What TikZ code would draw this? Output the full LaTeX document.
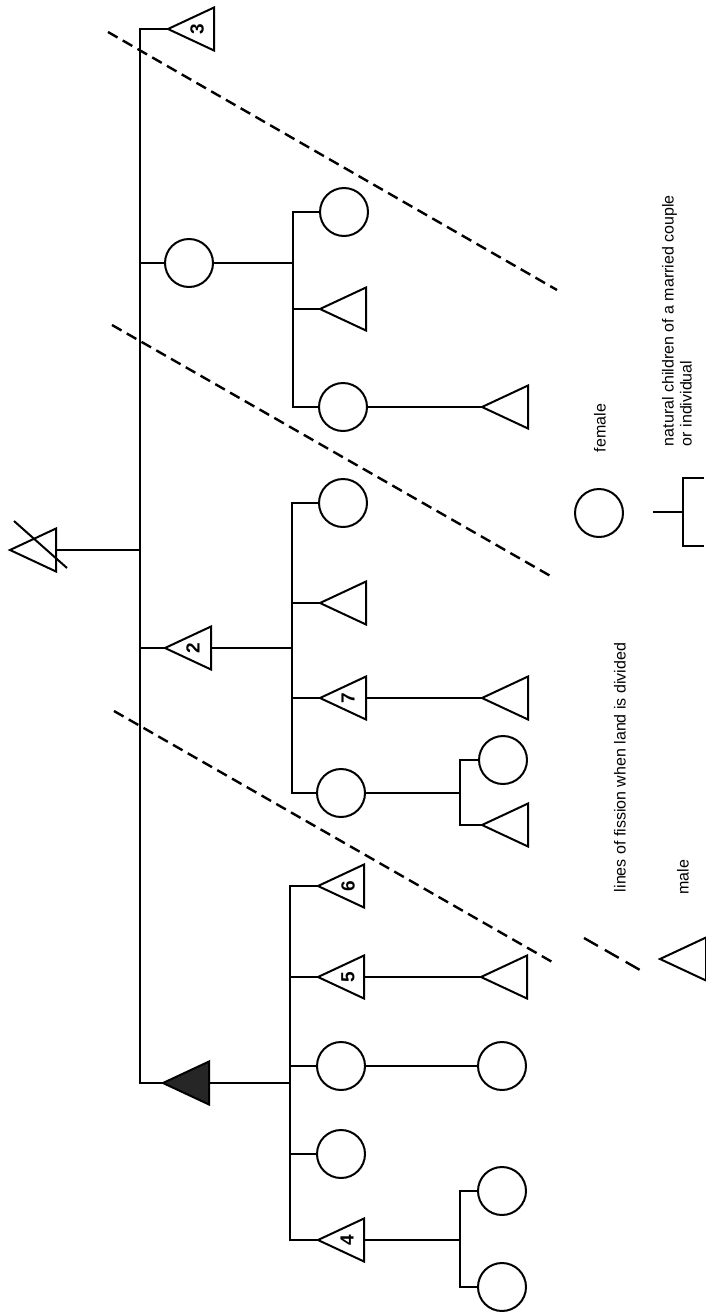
\documentclass[tikz,border=0pt]{standalone}
\usepackage{fontspec}
\newfontfamily\lab{Liberation Sans}
\usetikzlibrary{shapes.geometric}
\tikzset{
  tri/.style={draw, isosceles triangle, isosceles triangle stretches, shape border rotate=180,
    minimum width=21.5pt, minimum height=23pt, inner sep=0pt, outer sep=0pt, anchor=apex},
  fem/.style={draw, circle, minimum size=24pt, inner sep=0pt, outer sep=0pt},
  num/.style={rotate=90, inner sep=0pt, font={\lab\bfseries\fontsize{9.5}{10}\selectfont}},
  txt/.style={rotate=90, inner sep=0pt, font={\lab\fontsize{8}{9}\selectfont}, align=left},
  fission/.style={dash pattern=on 5.5pt off 3pt, line width=1.2pt},
}
\begin{document}
\begin{tikzpicture}[x=0.5pt, y=-0.5pt, line width=1pt]
\useasboundingbox (0,0) rectangle (706,1312);

% ---- generation 1 and 2 ----
\node[tri] (tx) at (10,550) {};
\coordinate (sl1) at (14,521);
\coordinate (sl2) at (67,568);
\draw (sl1) -- (sl2);

\coordinate (m1) at (140,29);
\coordinate (m2) at (140,1083);
\node[tri] (t3) at (168,29) {};
\node[num] (n3) at (197,29) {3};
\node[fem] (cA) at (189,263) {};
\node[tri] (t2) at (165,648) {};
\node[num] (n2) at (193,648) {2};
\node[tri, fill=black!85] (tf) at (163,1083) {};

\draw (t3.apex) -- (m1) -- (m2) -- (tf.apex);
\draw (tx.lower side) -- (tx.lower side -| m1);
\draw (cA.west) -- (cA.west -| m1);
\draw (t2.apex) -- (t2.apex -| m1);

% ---- family A ----
\coordinate (a1) at (293,212);
\coordinate (a2) at (293,407);
\node[fem] (cA1) at (344,212) {};
\node[tri] (ta1) at (320,309) {};
\node[fem] (cA3) at (343,407) {};
\node[tri] (ta2) at (482,407) {};
\draw (cA1.west) -- (a1) -- (a2) -- (cA3.west);
\draw (cA.east) -- (cA.east -| a1);
\draw (ta1.apex) -- (ta1.apex -| a1);
\draw (cA3.east) -- (ta2.apex);

% ---- family B ----
\coordinate (b1) at (292,503);
\coordinate (b2) at (292,793);
\node[fem] (cB1) at (343,503) {};
\node[tri] (tb2) at (320,603) {};
\node[tri] (t7) at (320,698) {};
\node[num] (n7) at (348,698) {7};
\node[tri] (tb7) at (482,698) {};
\node[fem] (cB4) at (341,793) {};
\draw (cB1.west) -- (b1) -- (b2) -- (cB4.west);
\draw (t2.lower side) -- (t2.lower side -| b1);
\draw (tb2.apex) -- (tb2.apex -| b1);
\draw (t7.apex) -- (t7.apex -| b1);
\draw (t7.lower side) -- (tb7.apex);

\coordinate (d1) at (460,760);
\coordinate (d2) at (460,825);
\node[fem] (cB4a) at (503,760) {};
\node[tri] (tb9) at (482,825) {};
\draw (cB4.east) -- (cB4.east -| d1);
\draw (cB4a.west) -- (d1) -- (d2) -- (tb9.apex);

% ---- family F ----
\coordinate (f1) at (290,886);
\coordinate (f2) at (290,1240);
\node[tri] (t6) at (318,886) {};
\node[num] (n6) at (348,886) {6};
\node[tri] (t5) at (318,977) {};
\node[num] (n5) at (348,977) {5};
\node[tri] (t5c) at (481,977) {};
\node[fem] (cF3) at (341,1066) {};
\node[fem] (cF3c) at (502,1066) {};
\node[fem] (cF4) at (341,1154) {};
\node[tri] (t4) at (318,1240) {};
\node[num] (n4) at (347,1240) {4};
\draw (t6.apex) -- (f1) -- (f2) -- (t4.apex);
\draw (tf.lower side) -- (tf.lower side -| f1);
\draw (t5.apex) -- (t5.apex -| f1);
\draw (t5.lower side) -- (t5c.apex);
\draw (cF3.west) -- (cF3.west -| f1);
\draw (cF3.east) -- (cF3c.west);
\draw (cF4.west) -- (cF4.west -| f1);

\coordinate (g1) at (460,1191);
\coordinate (g2) at (460,1287);
\node[fem] (c4a) at (502,1191) {};
\node[fem] (c4b) at (502,1287) {};
\draw (t4.lower side) -- (t4.lower side -| g1);
\draw (c4a.west) -- (g1) -- (g2) -- (c4b.west);

% ---- fission lines ----
\coordinate (p1) at (108,32);  \coordinate (q1) at (557,290);
\coordinate (p2) at (112,325); \coordinate (q2) at (554,578);
\coordinate (p3) at (114,711); \coordinate (q3) at (554,963);
\draw[fission] (p1) -- (q1);
\draw[fission] (p2) -- (q2);
\draw[fission] (p3) -- (q3);

% ---- legend ----
\coordinate (lf1) at (584,938); \coordinate (lf2) at (640,970);
\draw[line width=1.2pt, dash pattern=on 8pt off 4pt] (lf1) -- (lf2);
\node[txt, anchor=west] (tfis) at (620,893) {lines of fission when land is divided};
\node[tri] (lm) at (660,959) {};
\node[txt] (tmale) at (683,877) {male};
\node[fem] (lc) at (599,513) {};
\node[txt] (tfem) at (600,428) {female};
\coordinate (k0) at (653,512);
\coordinate (k1) at (683,478);
\coordinate (k2) at (683,546);
\coordinate (k3) at (704,478);
\coordinate (k4) at (704,546);
\draw (k0) -- (k0 -| k1);
\draw (k3) -- (k1) -- (k2) -- (k4);
\node[txt, anchor=west] (tnat) at (677,447) {natural children of a married couple\\or individual};
\end{tikzpicture}
\end{document}
